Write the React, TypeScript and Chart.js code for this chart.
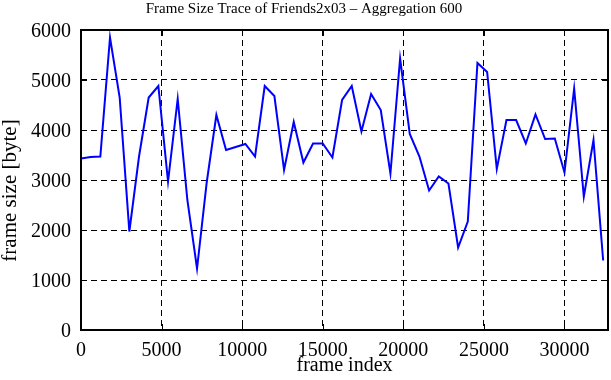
import React, { useEffect, useRef } from "react";
import { Chart, registerables } from "chart.js";

Chart.register(...registerables);

const frameIndex: number[] = [
  0, 600, 1200, 1800, 2400, 3000, 3600, 4200, 4800, 5400, 6000, 6600, 7200, 7800,
  8400, 9000, 9600, 10200, 10800, 11400, 12000, 12600, 13200, 13800, 14400, 15000,
  15600, 16200, 16800, 17400, 18000, 18600, 19200, 19800, 20400, 21000, 21600,
  22200, 22800, 23400, 24000, 24600, 25200, 25800, 26400, 27000, 27600, 28200,
  28800, 29400, 30000, 30600, 31200, 31800, 32400,
];

const frameSize: number[] = [
  3430, 3460, 3470, 5850, 4650, 1970, 3470, 4650, 4880, 2970, 4620, 2600, 1230, 2950,
  4300, 3600, 3660, 3720, 3470, 4880, 4680, 3200, 4160, 3350, 3730, 3730,
  3450, 4600, 4880, 3970, 4720, 4400, 3130, 5430, 3920, 3470, 2790,
  3070, 2930, 1650, 2170, 5340, 5160, 3220, 4200, 4200, 3730, 4310,
  3820, 3830, 3150, 4830, 2670, 3800, 1390,
];

const xTicks: number[] = [0, 5000, 10000, 15000, 20000, 25000, 30000];
const yTicks: number[] = [0, 1000, 2000, 3000, 4000, 5000, 6000];

const titleText = "Frame Size Trace of Friends2x03 \u2013 Aggregation 600";
const xTitle = "frame index";
const yTitle = "frame size [byte]";

const FONT = "'Liberation Serif', 'DejaVu Serif', serif";

const framePlugin = {
  id: "frameTicks",
  afterDatasetsDraw(chart: any) {
    const { ctx, chartArea, scales } = chart;
    const { left, right, top, bottom } = chartArea;
    ctx.save();
    ctx.strokeStyle = "#000";
    ctx.setLineDash([]);
    ctx.lineWidth = 1;
    const len = 6;
    ctx.beginPath();
    for (const v of xTicks) {
      const px = Math.round(scales.x.getPixelForValue(v)) + 0.5;
      ctx.moveTo(px, bottom);
      ctx.lineTo(px, bottom - len);
      ctx.moveTo(px, top);
      ctx.lineTo(px, top + len);
    }
    for (const v of yTicks) {
      const py = Math.round(scales.y.getPixelForValue(v)) + 0.5;
      ctx.moveTo(left, py);
      ctx.lineTo(left + len, py);
      ctx.moveTo(right, py);
      ctx.lineTo(right - len, py);
    }
    ctx.stroke();
    ctx.lineWidth = 2;
    ctx.strokeRect(left, top, right - left, bottom - top);
    ctx.restore();
  },
};

export default function App() {
  const ref = useRef<HTMLCanvasElement | null>(null);
  useEffect(() => {
    document.body.style.margin = "0";
    if (!ref.current) return;
    const chart = new Chart(ref.current, {
      type: "line",
      data: {
        datasets: [
          {
            data: frameIndex.map((x, i) => ({ x, y: frameSize[i] })),
            borderColor: "#0000ff",
            backgroundColor: "#0000ff",
            borderWidth: 2,
            pointRadius: 0,
            tension: 0,
            fill: false,
          },
        ],
      },
      options: {
        responsive: false,
        animation: false,
        layout: { padding: { top: 0, right: 3, left: 0, bottom: 0 } },
        plugins: {
          legend: { display: false },
          tooltip: { enabled: false },
          title: {
            display: true,
            text: titleText,
            color: "#000",
            font: { family: FONT, size: 15, weight: "normal" },
            padding: { top: 0, bottom: 12 },
          },
        },
        scales: {
          x: {
            type: "linear",
            min: 0,
            max: 32700,
            afterFit: (s: any) => {
              s.height = 50;
            },
            afterBuildTicks: (s: any) => {
              s.ticks = xTicks.map((v) => ({ value: v }));
            },
            ticks: {
              includeBounds: false,
              color: "#000",
              font: { family: FONT, size: 20, lineHeight: 1 },
              padding: 11,
              maxRotation: 0,
              autoSkip: false,
              callback: (v: any) => String(v),
            },
            grid: { color: "#000", lineWidth: 1, drawTicks: false },
            border: { display: false, dash: [6, 4] },
            title: {
              display: true,
              text: xTitle,
              color: "#000",
              font: { family: FONT, size: 20, lineHeight: 1 },
              padding: { top: 0, bottom: 4 },
            },
          },
          y: {
            type: "linear",
            min: 0,
            max: 6000,
            afterFit: (s: any) => {
              s.width = 81;
            },
            afterBuildTicks: (s: any) => {
              s.ticks = yTicks.map((v) => ({ value: v }));
            },
            ticks: {
              color: "#000",
              font: { family: FONT, size: 20, lineHeight: 1 },
              padding: 10,
              labelOffset: 2,
              autoSkip: false,
              callback: (v: any) => String(v),
            },
            grid: { color: "#000", lineWidth: 1, drawTicks: false },
            border: { display: false, dash: [6, 4] },
            title: {
              display: true,
              text: yTitle + "    ",
              color: "#000",
              font: { family: FONT, size: 21, lineHeight: 1 },
              padding: { top: 0, bottom: 0 },
            },
          },
        },
      },
      plugins: [framePlugin],
    });
    return () => chart.destroy();
  }, []);
  return (
    <div style={{ position: "absolute", left: 0, top: 0, width: 611, height: 380, background: "#fff" }}>
      <canvas ref={ref} width={611} height={380} />
    </div>
  );
}
